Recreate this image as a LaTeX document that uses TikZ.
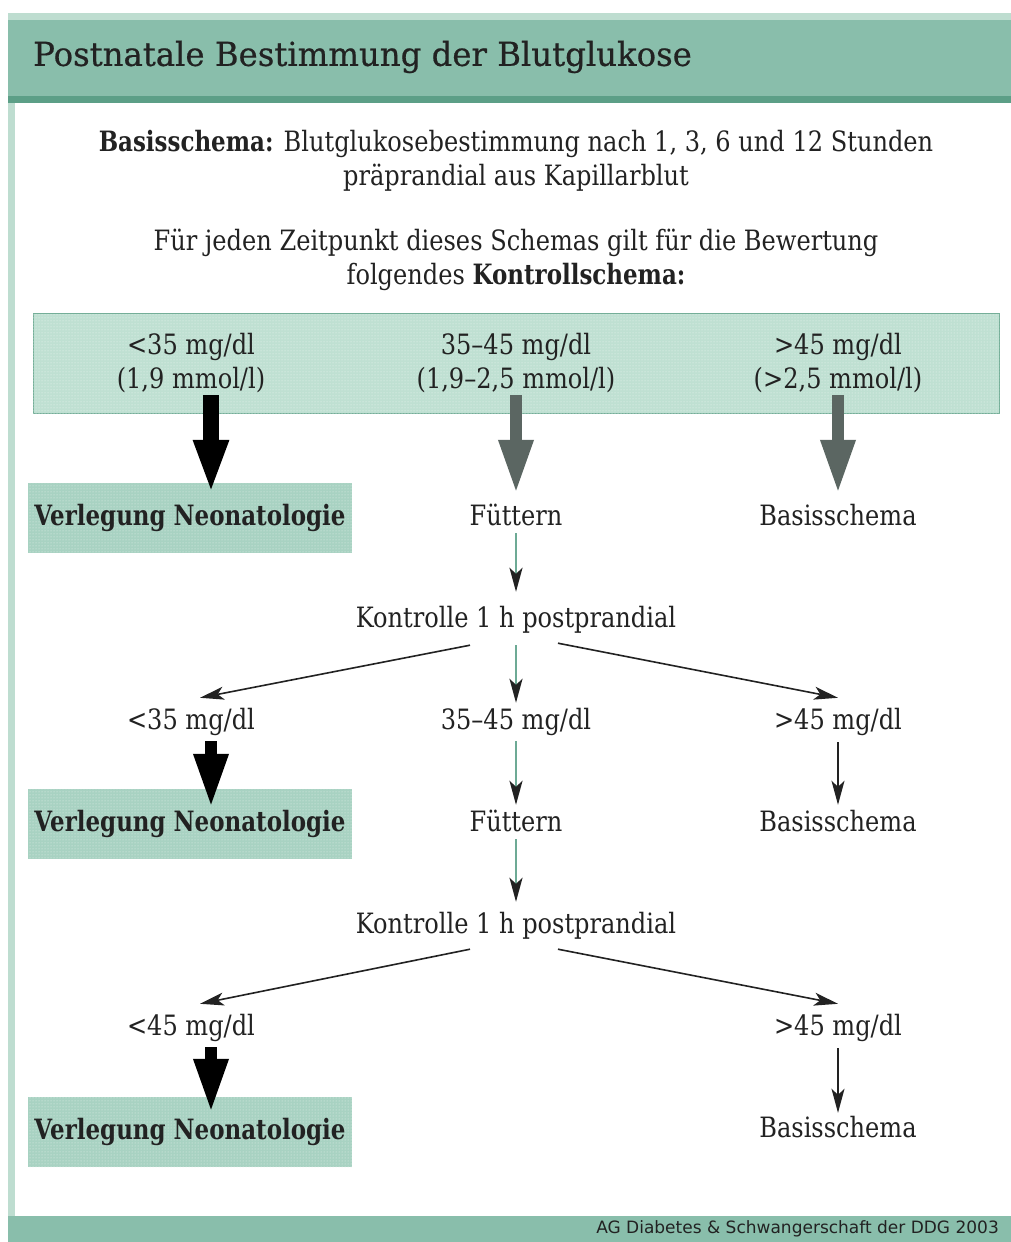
\documentclass[tikz,border=0pt]{standalone}
\usepackage{fontspec}
\setmainfont{DejaVu Serif}[FakeStretch=0.86, BoldFeatures={FakeStretch=0.82}]
\newfontfamily\titlefont{DejaVu Serif}[FakeStretch=0.98, FakeBold=0.5]
\newfontfamily\footfont{DejaVu Sans}[FakeStretch=1.0]
\usetikzlibrary{arrows.meta,patterns}
\definecolor{bandgreen}{HTML}{89BEAB}
\definecolor{bandlight}{HTML}{BEDDD0}
\definecolor{banddark}{HTML}{5C9F87}
\definecolor{boxfill}{HTML}{BFE0D2}
\definecolor{boxedge}{HTML}{74AE98}
\definecolor{verlfill}{HTML}{A8D2C2}
\definecolor{inkgray}{HTML}{222222}
\definecolor{arrowgray}{HTML}{5B6662}
\definecolor{feedteal}{HTML}{6DAA95}
\tikzset{
  lbl/.style={font=\fontsize{28}{34}\selectfont, text=inkgray, inner sep=2pt,
    text height=20pt, text depth=6pt},
  twolines/.style={font=\fontsize{28}{34}\selectfont, text=inkgray, inner sep=2pt, align=center},
  verlbox/.style={fill=verlfill, minimum width=324pt, minimum height=70pt, inner sep=0pt,
    text=inkgray, font=\fontsize{28}{34}\selectfont\bfseries,
    postaction={pattern=dots, pattern color=white!70!verlfill}},
  bigarrow/.style={line width=12pt, -{Triangle[width=32pt,length=54pt]}},
  thinarrow/.style={line width=1.6pt, draw=inkgray, -{Stealth[width=13pt,length=24pt,inset=6pt,color=inkgray]}},
  feedarrow/.style={thinarrow, line width=2.4pt, draw=feedteal}
}
\begin{document}
\begin{tikzpicture}[x=1pt,y=-1pt]
\useasboundingbox[fill=white] (0,0) rectangle (1011,1242);
\fill[bandlight] (8,13) rectangle (1011,20);
\fill[bandgreen] (8,20) rectangle (1011,97);
\fill[banddark] (8,96) rectangle (1011,103);
\fill[bandlight] (8,103) rectangle (15,1216);
\fill[bandgreen] (8,1216) rectangle (1011,1242);
\node[anchor=west, text=inkgray, font=\titlefont\fontsize{33}{36}\selectfont, inner sep=0pt] (title) at (33,57) {Postnatale Bestimmung der Blutglukose};
\node[twolines, text depth=0pt] (basis) at (516,158) {\textbf{Basisschema:} Blutglukosebestimmung nach 1, 3, 6 und 12 Stunden\\präprandial aus Kapillarblut};
\node[twolines] (intro) at (516,260) {Für jeden Zeitpunkt dieses Schemas gilt für die Bewertung\\folgendes \textbf{Kontrollschema:}};

\node[draw=boxedge, fill=boxfill, minimum width=966pt, minimum height=100pt,
  postaction={pattern=dots, pattern color=white!75!boxfill}] (ctrl) at (516,363) {};
\node[twolines] (lo1) at (191,363) {<35 mg/dl\\(1,9 mmol/l)};
\node[twolines] (mid1) at (516,363) {35–45 mg/dl\\(1,9–2,5 mmol/l)};
\node[twolines] (hi1) at (838,363) {>45 mg/dl\\(>2,5 mmol/l)};

\node[verlbox] (verl1) at (190,518) {Verlegung Neonatologie};
\node[lbl] (fuett1) at (516,518) {Füttern};
\node[lbl] (basis1) at (838,518) {Basisschema};
\draw[bigarrow, draw=black, line width=16pt] ([xshift=20pt]lo1.south) -- ([xshift=21pt,yshift=-11pt]verl1.north);
\draw[bigarrow, draw=arrowgray] (mid1.south) -- ([yshift=9pt]fuett1.north);
\draw[bigarrow, draw=arrowgray] (hi1.south) -- ([yshift=9pt]basis1.north);

\node[lbl] (kontr1) at (516,620) {Kontrolle 1 h postprandial};
\draw[feedarrow, shorten >=13pt] (fuett1) -- (kontr1);

\node[lbl] (lo2) at (191,722) {<35 mg/dl};
\node[lbl] (mid2) at (516,722) {35–45 mg/dl};
\node[lbl] (hi2) at (838,722) {>45 mg/dl};
\draw[thinarrow] ([xshift=-46pt,yshift=-10pt]kontr1.south) -- ([xshift=9pt,yshift=9pt]lo2.north);
\draw[feedarrow, shorten <=10pt, shorten >=4pt] (kontr1) -- (mid2);
\draw[thinarrow] ([xshift=42pt,yshift=-8pt]kontr1.south) -- ([yshift=9pt]hi2.north);

\node[verlbox] (verl2) at (190,824) {Verlegung Neonatologie};
\node[lbl] (fuett2) at (516,824) {Füttern};
\node[lbl] (basis2) at (838,824) {Basisschema};
\draw[bigarrow, draw=black] ([xshift=20pt,yshift=-4pt]lo2.south) -- ([xshift=21pt,yshift=-19pt]verl2.north);
\draw[feedarrow, shorten <=4pt, shorten >=4pt] (mid2) -- (fuett2);
\draw[thinarrow, shorten <=5pt, shorten >=4pt] (hi2) -- (basis2);

\node[lbl] (kontr2) at (516,926) {Kontrolle 1 h postprandial};
\draw[feedarrow, shorten >=9pt] (fuett2) -- (kontr2);

\node[lbl] (lo4) at (191,1028) {<45 mg/dl};
\node[lbl] (hi4) at (838,1028) {>45 mg/dl};
\draw[thinarrow] ([xshift=-46pt,yshift=-8pt]kontr2.south) -- ([xshift=9pt,yshift=9pt]lo4.north);
\draw[thinarrow] ([xshift=42pt,yshift=-8pt]kontr2.south) -- ([yshift=9pt]hi4.north);

\node[verlbox] (verl3) at (190,1132) {Verlegung Neonatologie};
\node[lbl] (basis3) at (838,1130) {Basisschema};
\draw[bigarrow, draw=black] ([xshift=20pt,yshift=-4pt]lo4.south) -- ([xshift=21pt,yshift=-16pt]verl3.north);
\draw[thinarrow, shorten <=5pt, shorten >=2pt] (hi4) -- (basis3);

\node[anchor=east, text=inkgray, font=\footfont\fontsize{17}{20}\selectfont, inner sep=0pt] (foot) at (999,1229) {AG Diabetes \& Schwangerschaft der DDG 2003};
\end{tikzpicture}
\end{document}
